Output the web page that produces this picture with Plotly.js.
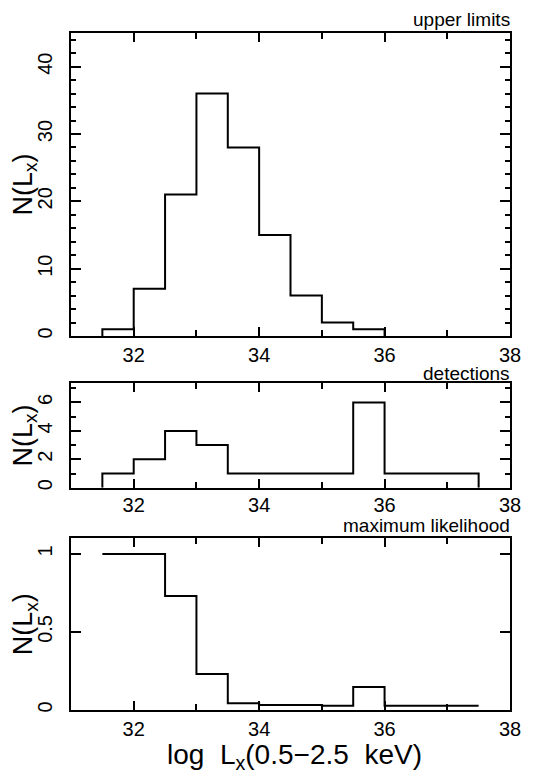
<!DOCTYPE html>
<html>
<head>
<meta charset="utf-8">
<script src="https://cdn.plot.ly/plotly-3.0.1.min.js"></script>
<style>html,body{margin:0;padding:0;background:#fff;}#chart{width:535px;height:775px;}</style>
</head>
<body>
<div id="chart"></div>
<script>
// ---- data ----
const binWidth = 0.5;
const upperBinLo = [31.5, 32, 32.5, 33, 33.5, 34, 34.5, 35, 35.5];
const upperCounts = [1, 7, 21, 36, 28, 15, 6, 2, 1];

const detBinLo = [31.5, 32, 32.5, 33, 33.5, 34, 34.5, 35, 35.5, 36, 36.5, 37];
const detCounts = [1, 2, 4, 3, 1, 1, 1, 1, 6, 1, 1, 1];

const mlBinLo = [31.5, 32, 32.5, 33, 33.5, 34, 34.5, 35, 35.5, 36, 36.5, 37];
const mlValues = [1, 1, 0.73, 0.23, 0.043, 0.032, 0.032, 0.028, 0.147, 0.028, 0.028, 0.028];

const panelTitles = ["upper limits", "detections", "maximum likelihood"];
const xTickVals = [32, 34, 36, 38];

// ---- step-path builder ----
function stepPath(lo, vals, closed) {
  const x = [], y = [];
  if (closed) { x.push(lo[0]); y.push(0); }
  for (let i = 0; i < lo.length; i++) { x.push(lo[i]); y.push(vals[i]); }
  x.push(lo[lo.length - 1] + binWidth);
  y.push(closed ? 0 : vals[vals.length - 1]);
  return {x, y};
}

const lineStyle = {color: '#000', width: 2, shape: 'hv'};
const p1 = stepPath(upperBinLo, upperCounts, true);
const p2 = stepPath(detBinLo, detCounts, true);
const p3 = stepPath(mlBinLo, mlValues, false);

const traces = [
  {x: p1.x, y: p1.y, mode: 'lines', line: lineStyle, xaxis: 'x', yaxis: 'y', hoverinfo: 'skip'},
  {x: p2.x, y: p2.y, mode: 'lines', line: lineStyle, xaxis: 'x2', yaxis: 'y2', hoverinfo: 'skip'},
  {x: p3.x, y: p3.y, mode: 'lines', line: lineStyle, xaxis: 'x3', yaxis: 'y3', hoverinfo: 'skip'}
];

const W = 535, H = 775;
const fontFam = '"Liberation Sans", Arial, Helvetica, sans-serif';
const xDom = [71 / W, 510 / W];
const frames = [[33, 336], [383.3, 487.7], [538.3, 710]];
const yDom = frames.map(f => [1 - f[1] / H, 1 - f[0] / H]);

function xAx(anchor, standoff) {
  return {
    domain: xDom, anchor: anchor, range: [31, 38],
    tickmode: 'array', tickvals: xTickVals, ticktext: xTickVals.map(String),
    ticks: 'inside', ticklen: 9, tickwidth: 2, tickcolor: '#000',
    minor: {ticks: 'inside', dtick: 1, tick0: 31, ticklen: 6, tickwidth: 2, tickcolor: '#000'},
    showline: true, linewidth: 2, linecolor: '#000', mirror: 'ticks',
    showgrid: false, zeroline: false, ticklabelstandoff: standoff,
    tickfont: {family: fontFam, size: 20, color: '#000'},
    fixedrange: true
  };
}
function yAx(anchor, range, dtick, minorDtick) {
  const a = {
    domain: null, anchor: anchor, range: range,
    tickmode: 'linear', tick0: 0, dtick: dtick,
    ticks: 'inside', ticklen: 10, tickwidth: 2, tickcolor: '#000',
    showline: true, linewidth: 2, linecolor: '#000', mirror: 'ticks',
    showgrid: false, zeroline: false, tickangle: -90, ticklabelstandoff: 9,
    tickfont: {family: fontFam, size: 20, color: '#000'},
    fixedrange: true
  };
  if (minorDtick) a.minor = {ticks: 'inside', dtick: minorDtick, ticklen: 5, tickwidth: 2, tickcolor: '#000'};
  return a;
}

const ya1 = yAx('x', [0, 45], 10, 2); ya1.domain = yDom[0];
const ya2 = yAx('x2', [0, 7.35], 2, 1); ya2.domain = yDom[1];
const ya3 = yAx('x3', [0, 1.1], 0.5, null); ya3.domain = yDom[2];

const titleBottoms = [31, 385, 537];
const annotations = [];
panelTitles.forEach((t, i) => {
  annotations.push({
    text: t, xref: 'paper', yref: 'paper', x: xDom[1] + 1 / W, y: 1 - titleBottoms[i] / H,
    xanchor: 'right', yanchor: 'bottom', showarrow: false, borderpad: 0,
    font: {family: fontFam, size: 19, color: '#000'}
  });
});
frames.forEach((f) => {
  annotations.push({
    text: 'N(L<sub>x</sub>)', xref: 'paper', yref: 'paper', x: 25 / W, y: 1 - (f[0] + f[1]) / 2 / H,
    xanchor: 'center', yanchor: 'middle', textangle: -90, showarrow: false,
    font: {family: fontFam, size: 27, color: '#000'}
  });
});
annotations.push({
  text: 'log  L<sub>x</sub>(0.5\u22122.5  keV)', xref: 'paper', yref: 'paper',
  x: 294 / W, y: 1 - 775 / H, xanchor: 'center', yanchor: 'bottom', showarrow: false, borderpad: 0,
  font: {family: fontFam, size: 28, color: '#000'}
});

const layout = {
  width: W, height: H,
  margin: {l: 0, r: 0, t: 0, b: 0},
  paper_bgcolor: '#fff', plot_bgcolor: '#fff',
  showlegend: false,
  xaxis: xAx('y', 0), xaxis2: xAx('y2', -2), xaxis3: xAx('y3', 0),
  yaxis: ya1, yaxis2: ya2, yaxis3: ya3,
  annotations: annotations
};

Plotly.newPlot('chart', traces, layout, {displayModeBar: false, staticPlot: true});
</script>
</body>
</html>
